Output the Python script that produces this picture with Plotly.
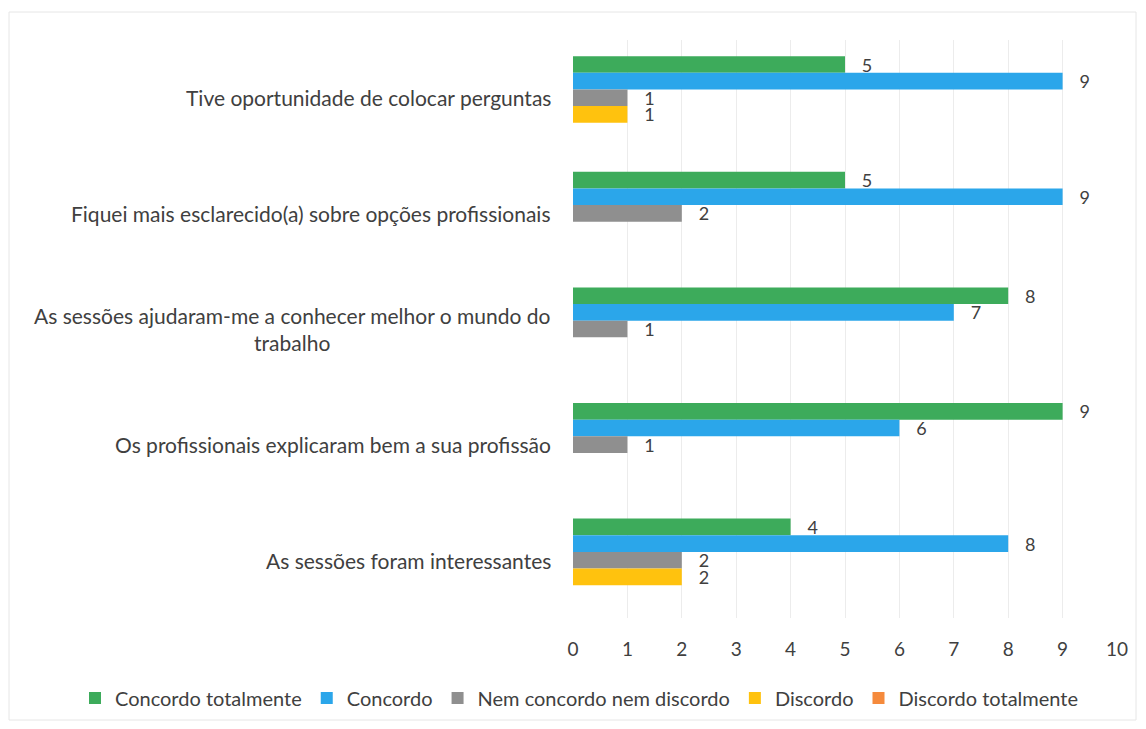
import plotly.graph_objects as go

categories = [
    "Tive oportunidade de colocar perguntas",
    "Fiquei mais esclarecido(a) sobre opções profissionais",
    "As sessões ajudaram-me a conhecer melhor o mundo do<br>trabalho",
    "Os profissionais explicaram bem a sua profissão",
    "As sessões foram interessantes",
]
series_names = ["Concordo totalmente", "Concordo", "Nem concordo nem discordo", "Discordo", "Discordo totalmente"]
concordo_totalmente = [5, 5, 8, 9, 4]
concordo = [9, 9, 7, 6, 8]
nem_nem = [1, 2, 1, 1, 2]
discordo = [1, 0, 0, 0, 2]
discordo_totalmente = [0, 0, 0, 0, 0]
x_ticks = list(range(0, 11))

series_values = [concordo_totalmente, concordo, nem_nem, discordo, discordo_totalmente]
colors = ["#3dab5b", "#2ba6ea", "#8f8f8f", "#ffc20e", "#f58a3c"]

FONT = "Lato"
TXT = "#404040"

# page body has an 8px margin: figure occupies page x 8..1138, y 8..721
W, H = 1130, 713
L, R, T, B = 565, 21, 32, 103
PW, PH = W - L - R, H - T - B

fig = go.Figure()
for name, vals, col in zip(series_names, series_values, colors):
    fig.add_trace(go.Bar(
        y=categories, x=vals, name=name, orientation="h",
        marker=dict(color=col, line=dict(width=0)),
        text=["   " + str(v) if v else "" for v in vals],
        textposition="outside",
        constraintext="none",
        textfont=dict(family=FONT, size=18, color=TXT),
        cliponaxis=False,
    ))

for c in categories:
    fig.add_annotation(
        x=0, xref="paper", y=c, yref="y", text=c, showarrow=False,
        xanchor="right", yanchor="middle", align="center", xshift=-20,
        font=dict(family=FONT, size=21, color=TXT),
    )

fig.add_shape(type="rect", xref="paper", yref="paper",
              x0=(1 - L) / PW, x1=(W - 2 - L) / PW,
              y0=(H - B - 712) / PH, y1=(H - B - 4) / PH,
              line=dict(color="#e6e6e6", width=1), layer="below")

fig.update_layout(
    width=W, height=H,
    margin=dict(l=L, r=R, t=T, b=B, autoexpand=False),
    paper_bgcolor="white", plot_bgcolor="white",
    barmode="group", bargap=0.28, bargroupgap=0,
    font=dict(family=FONT, size=18, color=TXT),
    xaxis=dict(range=[0, 10], tickvals=x_ticks, showgrid=True, gridcolor="#ececec",
               gridwidth=1, zeroline=False, showline=False, ticks="",
               ticklabelstandoff=18,
               tickfont=dict(family=FONT, size=19, color=TXT)),
    yaxis=dict(autorange="reversed", showticklabels=False, showgrid=False,
               zeroline=False, showline=False, ticks=""),
    legend=dict(orientation="h", xref="paper", x=(75 - 8 - L) / PW, xanchor="left",
                yref="paper", y=(H - B - (698 - 8)) / PH, yanchor="middle",
                font=dict(family=FONT, size=20, color=TXT),
                bgcolor="rgba(0,0,0,0)",
                itemwidth=30, traceorder="normal", tracegroupgap=0),
    showlegend=True,
)

fig.write_html("out.html")
